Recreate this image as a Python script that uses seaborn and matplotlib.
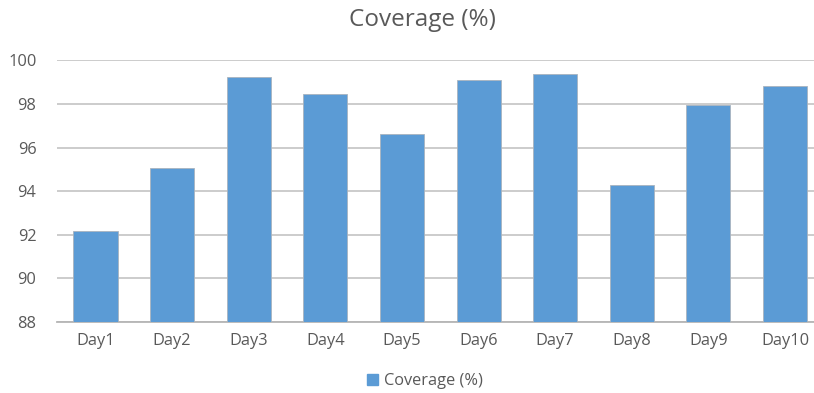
import matplotlib
matplotlib.use("Agg")
import matplotlib.pyplot as plt
import seaborn as sns
import pandas as pd

days = ["Day1", "Day2", "Day3", "Day4", "Day5", "Day6", "Day7", "Day8", "Day9", "Day10"]
coverage = [92.19, 95.05, 99.25, 98.47, 96.64, 99.09, 99.38, 94.27, 97.95, 98.81]
yticks = [88, 90, 92, 94, 96, 98, 100]
series_name = "Coverage (%)"

df = pd.DataFrame({"day": days, "coverage": coverage})

sns.set_theme(style="white")
plt.rcParams["font.family"] = ["Open Sans", "DejaVu Sans"]

text_color = "#595959"
bar_color = "#5B9BD5"
grid_color = "#c8c8c8"

fig = plt.figure(figsize=(8.14, 3.93), dpi=100)
W, H = 814, 393
left, right = 57.2, 823.3
top, bottom = 60.3, 322.0
ax = fig.add_axes([left / W, 1 - bottom / H, (right - left) / W, (bottom - top) / H])

sns.barplot(data=df, x="day", y="coverage", color=bar_color, width=0.575,
            saturation=1, edgecolor="#a9b4bf", linewidth=0.6, ax=ax, zorder=3)

ax.set_ylim(88, 100)
ax.set_yticks(yticks)
ax.set_xlim(-0.5, len(days) - 0.5)
ax.yaxis.grid(True, color=grid_color, linewidth=1.3, zorder=0)
ax.set_axisbelow(True)
for s in ["top", "right", "left"]:
    ax.spines[s].set_visible(False)
ax.spines["bottom"].set_color("#b5b5b5")
ax.spines["bottom"].set_linewidth(1.3)
ax.set_xlabel("")
ax.set_ylabel("")
ax.tick_params(axis="both", length=0, labelsize=11.8, colors=text_color)
ax.tick_params(axis="x", pad=8)
ax.tick_params(axis="y", pad=15)

fig.text(422 / W, 1 - 20 / H, series_name, ha="center", va="center",
         fontsize=17.5, color=text_color)

handle = plt.Rectangle((0, 0), 1, 1, color=bar_color)
fig.legend([handle], [series_name], loc="center", bbox_to_anchor=(425 / W, 1 - 381 / H),
           frameon=False, fontsize=11.8, labelcolor=text_color,
           handlelength=0.65, handleheight=0.65, handletextpad=0.35)

fig.savefig("out.png", dpi=100)
